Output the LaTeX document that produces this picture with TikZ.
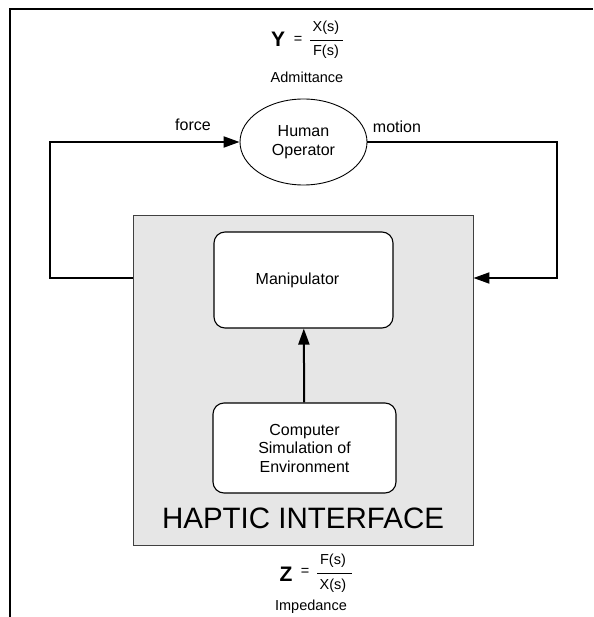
\documentclass[tikz,border=0pt]{standalone}
\usepackage{fontspec}
\setmainfont{Liberation Sans}
\usetikzlibrary{arrows.meta,shapes.geometric}
\definecolor{hibg}{HTML}{E6E6E6}
\begin{document}
\begin{tikzpicture}[x=1pt,y=-1pt,
  conn/.style={line width=2pt,-{Triangle[length=16pt,width=11pt]}},
  wbox/.style={draw,line width=1.1pt,rounded corners=11pt,fill=white,inner sep=0pt,font=\fontsize{16}{18.5}\selectfont,align=center},
  lbl/.style={inner sep=0pt,font=\fontsize{16}{18.5}\selectfont},
  small/.style={inner sep=0pt,font=\fontsize{14.5}{17}\selectfont},
  big/.style={inner sep=0pt,font=\fontsize{21}{24}\selectfont\bfseries}]
\useasboundingbox (0,0) rectangle (593,617);
% frame
\coordinate (fbl) at (10,617);
\coordinate (ftl) at (10,9);
\coordinate (ftr) at (593,9);
\draw[line width=2pt] (fbl) -- (ftl) -- (ftr);
% haptic interface
\node[draw=black!75,line width=0.9pt,fill=hibg,minimum width=340pt,minimum height=330pt,inner sep=0pt] (HI) at (303,380) {};
\node[inner sep=0pt,font=\fontsize{29.5}{32}\selectfont] (hil) at (303,518) {HAPTIC INTERFACE};
\node[wbox,minimum width=179pt,minimum height=96pt] (man) at (303.5,280) {Manipulator\hspace*{12pt}};
\node[wbox,minimum width=183pt,minimum height=90pt] (sim) at (304.5,448) {Computer\\Simulation of\\Environment};
\draw[conn] (sim) -- (man);
% human operator
\node[draw,ellipse,line width=0.9pt,minimum width=127pt,minimum height=86pt,inner sep=0pt,align=center,font=\fontsize{16}{18.5}\selectfont] (HO) at (303.5,142) {Human\\Operator};
% force loop
\coordinate (fb) at (50,278);
\coordinate (ft) at (50,142);
\draw[conn] (HI.west |- fb) -- (fb) -- (ft) -- (HO.west);
\node[lbl] (force) at (193,125) {force};
% motion loop
\coordinate (mt) at (557,142);
\coordinate (mb) at (557,278);
\draw[conn] (HO.east) -- (mt) -- (mb) -- (HI.east |- mb);
\node[lbl] (motion) at (397,127) {motion};
% admittance
\node[big] (Y) at (278,39) {Y};
\node[small] (yeq) at (298,40) {=};
\node[small] (ynum) at (326,28) {X(s)};
\node[small] (yden) at (326,52) {F(s)};
\coordinate (yb1) at (310,40);
\coordinate (yb2) at (343,40);
\draw[line width=0.8pt] (yb1) -- (yb2);
\node[small] (adm) at (307,77) {Admittance};
% impedance
\node[big] (Z) at (286,574) {Z};
\node[small] (zeq) at (305,572) {=};
\node[small] (znum) at (333,561) {F(s)};
\node[small] (zden) at (333,586) {X(s)};
\coordinate (zb1) at (317,573);
\coordinate (zb2) at (352,573);
\draw[line width=0.8pt] (zb1) -- (zb2);
\node[small] (imp) at (311,607) {Impedance};
\end{tikzpicture}
\end{document}
